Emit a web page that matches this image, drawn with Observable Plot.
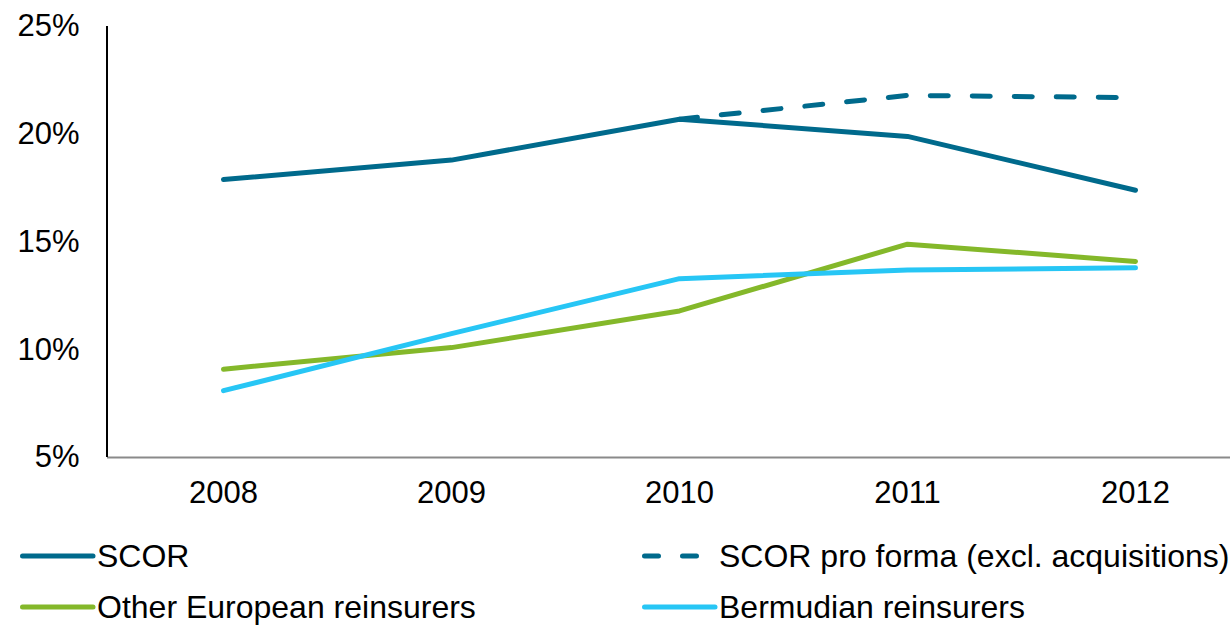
<!DOCTYPE html>
<html><head><meta charset="utf-8">
<script src="https://cdn.jsdelivr.net/npm/d3@7"></script>
<script src="https://cdn.jsdelivr.net/npm/@observablehq/plot@0.6"></script>
<style>
body{margin:0;background:#fff;font-family:"Liberation Sans",Arial,sans-serif;}
#legend{position:relative;height:105px;width:1230px;}
.item{position:absolute;display:flex;align-items:center;font-size:32px;color:#000;height:40px;white-space:nowrap;}
.item svg{display:block;}
</style></head><body>
<div id="chart"></div>
<div id="legend"></div>
<script>
const years = ["2008","2009","2010","2011","2012"];
const yTicks = [5,10,15,20,25];
const seriesNames = ["SCOR","SCOR pro forma (excl. acquisitions)","Other European reinsurers","Bermudian reinsurers"];
const scor = [17.9,18.8,20.7,19.9,17.4];
const scorProForma = [null,null,20.7,21.8,21.7];
const otherEuropean = [9.1,10.1,11.8,14.9,14.1];
const bermudian = [8.1,10.75,13.3,13.7,13.8];
const seriesColors = ["#006a8c","#006a8c","#84b82a","#27c6f5"];
const seriesDash = [null,"18,24",null,null];

const allSeries = [scor, scorProForma, otherEuropean, bermudian];
const font = '"Liberation Sans", Arial, sans-serif';

const lineMarks = allSeries.map((vals, i) => {
  const rows = years.map((yr, j) => ({year: yr, value: vals[j]})).filter(d => d.value != null);
  return Plot.line(rows, {
    x: "year", y: "value",
    stroke: seriesColors[i], strokeWidth: 5,
    strokeDasharray: seriesDash[i] || undefined,
    strokeLinecap: "round", strokeLinejoin: "round"
  });
});

const chart = Plot.plot({
  width: 1230, height: 520,
  marginLeft: 107, marginRight: 0, marginTop: 26, marginBottom: 63,
  style: {fontFamily: font, fontSize: "31px", color: "#000", background: "#fff"},
  x: {type: "point", domain: years, range: [222, 1136], padding: 0, label: null, tickSize: 0, tickPadding: 23},
  y: {domain: [5, 25], ticks: yTicks, tickFormat: d => d + "%", label: null, tickSize: 0, tickPadding: 28},
  marks: [
    Plot.ruleY([5], {stroke: "#8a8a8a", strokeWidth: 2}),
    ...lineMarks
  ]
});
document.getElementById("chart").appendChild(chart);

// vertical y-axis line at the left of the frame, positioned with the y scale
const ys = chart.scale("y");
d3.select(chart).append("line")
  .attr("x1", 107).attr("x2", 107)
  .attr("y1", ys.apply(25)).attr("y2", ys.apply(5))
  .attr("stroke", "#000").attr("stroke-width", 2);

// legend
const legendPos = [[20, 16], [642, 16], [20, 67], [642, 67]];
const legend = d3.select("#legend");
seriesNames.forEach((name, i) => {
  const item = legend.append("div").attr("class", "item")
    .style("left", legendPos[i][0] + "px").style("top", legendPos[i][1] + "px");
  const sw = item.append("svg").attr("width", 77).attr("height", 12);
  const dashed = seriesDash[i] != null;
  sw.append("line")
    .attr("x1", 2.5).attr("x2", dashed ? 63 : 73).attr("y1", 6).attr("y2", 6)
    .attr("stroke", seriesColors[i]).attr("stroke-width", 5)
    .attr("stroke-linecap", "round")
    .attr("stroke-dasharray", dashed ? "14,24" : null);
  item.append("span").text(name);
});
</script>
</body></html>
